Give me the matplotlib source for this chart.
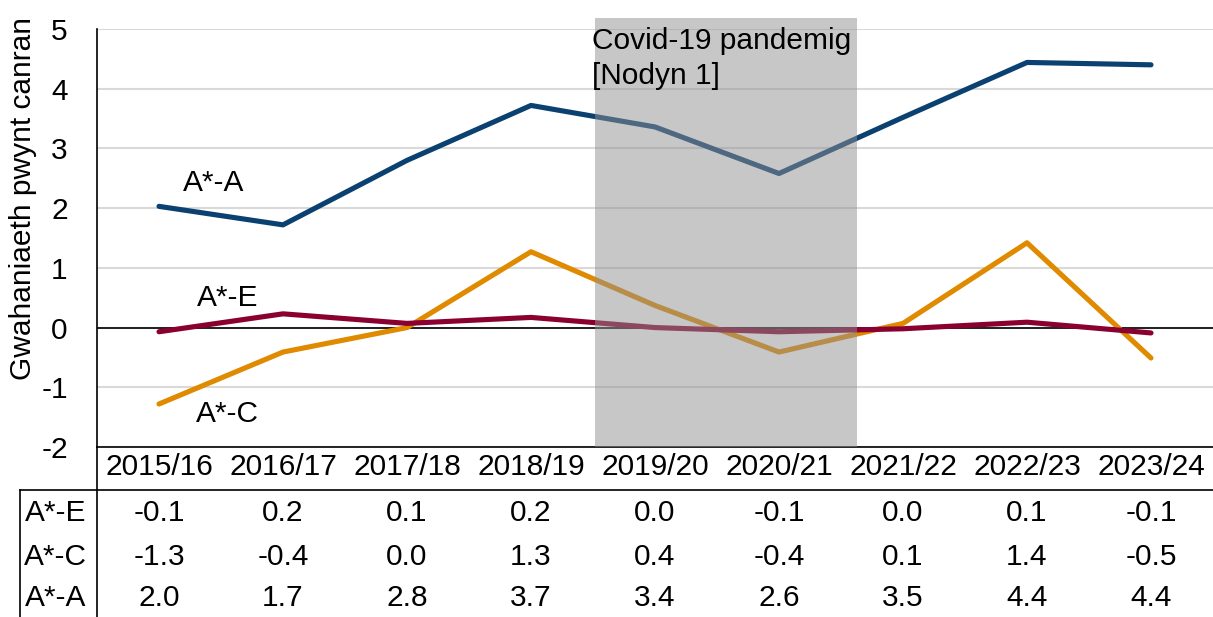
import numpy as np
import matplotlib.pyplot as plt
from matplotlib.patches import Rectangle
from matplotlib.lines import Line2D

plt.rcParams["font.family"] = ["Liberation Sans", "DejaVu Sans"]

years = ["2015/16", "2016/17", "2017/18", "2018/19", "2019/20",
         "2020/21", "2021/22", "2022/23", "2023/24"]
a_star_a = [2.03, 1.72, 2.80, 3.72, 3.36, 2.58, 3.52, 4.44, 4.40]
a_star_c = [-1.28, -0.41, 0.00, 1.27, 0.37, -0.41, 0.07, 1.42, -0.51]
a_star_e = [-0.07, 0.23, 0.07, 0.17, 0.00, -0.07, -0.02, 0.09, -0.09]
series_names = ["A*-E", "A*-C", "A*-A"]

colours = {"A*-A": "#0b4170", "A*-C": "#e08a00", "A*-E": "#8a0030"}
FS = 21.5

fig = plt.figure(figsize=(12.13, 6.17), dpi=100)
ax = fig.add_axes([97 / 1213, 1 - 447 / 617, 1 - 97 / 1213, 418 / 617])

x = np.arange(len(years))
ax.plot(x, a_star_a, color=colours["A*-A"], lw=3.7, solid_capstyle="round", zorder=3)
ax.plot(x, a_star_c, color=colours["A*-C"], lw=3.7, solid_capstyle="round", zorder=3)
ax.plot(x, a_star_e, color=colours["A*-E"], lw=3.7, solid_capstyle="round", zorder=3)
ax.axhline(0, color="black", lw=1.2, zorder=2)

ax.set_xlim(-0.5, 8.5)
ax.set_ylim(-2, 5)
ax.set_yticks(range(-2, 6))
ax.set_yticklabels([str(v) for v in range(-2, 6)], fontsize=FS)
ax.tick_params(axis="y", length=0, pad=21)
ax.set_xticks(x)
ax.set_xticklabels(years, fontsize=FS)
ax.tick_params(axis="x", length=0, pad=4)
ax.yaxis.grid(True, color="#d9d9d9", lw=1.5, zorder=0)
ax.set_axisbelow(True)
for s in ["top", "right"]:
    ax.spines[s].set_visible(False)
ax.spines["left"].set_linewidth(1.2)
ax.spines["bottom"].set_linewidth(1.2)

# axis title sits a little above the middle of the axis, as in the source
fig.text(23 / 1213, 1 - 198 / 617, "Gwahaniaeth pwynt canran", fontsize=FS,
         rotation=90, ha="center", va="center")

# covid shading, drawn over the lines
ax.add_patch(Rectangle((3.52, -2), 5.63 - 3.52, 7.19, facecolor="#909090",
                       alpha=0.5, edgecolor="none", zorder=4, clip_on=False))
ax.text(3.49, 5.03, "Covid-19 pandemig\n[Nodyn 1]", fontsize=FS,
        va="top", ha="left", linespacing=1.32, zorder=5)

# series labels
ax.text(0.44, 2.42, "A*-A", fontsize=FS, ha="center", va="center")
ax.text(0.55, 0.50, "A*-E", fontsize=FS, ha="center", va="center")
ax.text(0.55, -1.45, "A*-C", fontsize=FS, ha="center", va="center")

# data table under the chart
trans = ax.get_xaxis_transform()
row_y = [-0.158, -0.263, -0.361]
for name, vals, ry in zip(series_names, [a_star_e, a_star_c, a_star_a], row_y):
    ax.text(-0.835, ry, name, transform=trans, fontsize=FS, ha="center", va="center")
    for xi, v in zip(x, vals):
        ax.text(xi, ry, f"{round(v, 1) + 0.0:.1f}", transform=trans,
                fontsize=FS, ha="center", va="center")

fig.add_artist(Line2D([20 / 1213, 1], [1 - 490 / 617] * 2, color="black", lw=1.2))
fig.add_artist(Line2D([20 / 1213] * 2, [0, 1 - 490 / 617], color="black", lw=1.2))
fig.add_artist(Line2D([97 / 1213] * 2, [0, 1 - 447 / 617], color="black", lw=1.2))

fig.savefig("out.png", dpi=100)
